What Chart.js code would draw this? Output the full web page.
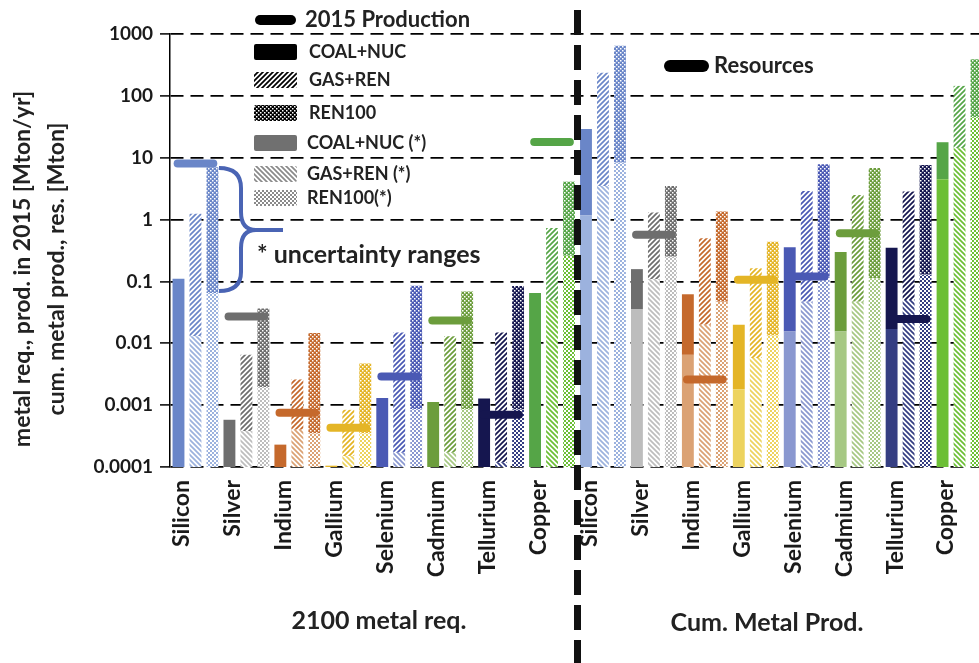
<!DOCTYPE html>
<html>
<head>
<meta charset="utf-8">
<script src="https://cdn.jsdelivr.net/npm/chart.js@4.4.1/dist/chart.umd.min.js"></script>
<style>
  html, body { margin: 0; padding: 0; background: #fff; overflow: hidden; }
  #wrap { width: 979px; height: 663px; overflow: hidden; }
  canvas { display: block; }
</style>
</head>
<body>
<div id="wrap"><canvas id="chart" width="1000" height="663"></canvas></div>
<script>
const metals = ['Silicon', 'Silver', 'Indium', 'Gallium', 'Selenium', 'Cadmium', 'Tellurium', 'Copper'];

// 2100 metal requirement [Mton/yr]  (low = top of the uncertainty part)
const reqCoalHigh = [0.11, 0.00058, 0.00023, 0.000105, 0.0013, 0.00112, 0.00128, 0.065];
const reqGasLow = [0.013, 0.00038, 0.0004, 0.00015, 0.00017, 0.00017, 0.00012, 0.049];
const reqGasHigh = [1.24, 0.0065, 0.0026, 0.00084, 0.015, 0.013, 0.015, 0.73];
const reqRenLow = [0.065, 0.00196, 0.00035, 0.00035, 0.00086, 0.00086, 0.00085, 0.26];
const reqRenHigh = [7.0, 0.0365, 0.0146, 0.0047, 0.085, 0.069, 0.084, 4.1];
const prod2015 = [8.1, 0.027, 0.00075, 0.00043, 0.0029, 0.0233, 0.0007, 18];

// cumulative metal production [Mton]
const cumCoalLow = [1.16, 0.0357, 0.0065, 0.0018, 0.0155, 0.0155, 0.017, 4.5];
const cumCoalHigh = [29, 0.158, 0.062, 0.02, 0.358, 0.30, 0.35, 17.8];
const cumGasLow = [3.5, 0.109, 0.02, 0.0058, 0.047, 0.047, 0.05, 14.2];
const cumGasHigh = [237, 1.3, 0.5, 0.164, 2.9, 2.5, 2.85, 145];
const cumRenLow = [8.3, 0.25, 0.047, 0.0133, 0.12, 0.113, 0.128, 45];
const cumRenHigh = [646, 3.5, 1.35, 0.44, 7.85, 6.8, 7.6, 390];
const resources = [null, 0.57, 0.0026, 0.106, 0.12, 0.6, 0.0247, null];

const tickValues = [1000, 100, 10, 1, 0.1, 0.01, 0.001, 0.0001];
const tickLabels = ['1000', '100', '10', '1', '0.1', '0.01', '0.001', '0.0001'];

const darkColors = ['#6a86c8', '#6e6e6e', '#c5692c', '#e4b526', '#4a59b4', '#6c9d3c', '#15164f', '#55a547'];
const lightColors = ['#9cb2de', '#bdbdbd', '#dba274', '#edd35e', '#8a98d0', '#a6c883', '#353e82', '#6cbf35'];

const FONT = 'Lato, "Open Sans", sans-serif';
const AXIS_MIN = 0.0001;

// fill patterns
function hatch(color, back) {
    const s = 5;
    const c = document.createElement('canvas');
    c.width = s; c.height = s;
    const g = c.getContext('2d');
    g.fillStyle = '#fff';
    g.fillRect(0, 0, s, s);
    g.strokeStyle = color;
    g.lineWidth = 1.7;
    g.beginPath();
    if (!back) {
        g.moveTo(-1, s + 1); g.lineTo(s + 1, -1);
        g.moveTo(-1, 1); g.lineTo(1, -1);
        g.moveTo(s - 1, s + 1); g.lineTo(s + 1, s - 1);
    } else {
        g.moveTo(-1, -1); g.lineTo(s + 1, s + 1);
        g.moveTo(s - 1, -1); g.lineTo(s + 1, 1);
        g.moveTo(-1, s - 1); g.lineTo(1, s + 1);
    }
    g.stroke();
    return g.createPattern(c, 'repeat');
}

function dots(color) {
    const c = document.createElement('canvas');
    c.width = 4; c.height = 4;
    const g = c.getContext('2d');
    g.fillStyle = color;
    g.fillRect(0, 0, 4, 4);
    g.fillStyle = '#fff';
    g.fillRect(0, 0, 1.5, 1.5);
    g.fillRect(2, 2, 1.5, 1.5);
    return g.createPattern(c, 'repeat');
}

function checker(color) {
    const c = document.createElement('canvas');
    c.width = 4; c.height = 4;
    const g = c.getContext('2d');
    g.fillStyle = '#fff';
    g.fillRect(0, 0, 4, 4);
    g.fillStyle = color;
    g.fillRect(0, 0, 2, 2);
    g.fillRect(2, 2, 2, 2);
    return g.createPattern(c, 'repeat');
}

// one category slot per bar: left half = requirement, right half = cumulative production
const halves = [
    { low: [null, reqGasLow, reqRenLow], high: [reqCoalHigh, reqGasHigh, reqRenHigh] },
    { low: [cumCoalLow, cumGasLow, cumRenLow], high: [cumCoalHigh, cumGasHigh, cumRenHigh] }
];
const slotLabels = [], lightData = [], darkData = [], lightFill = [], darkFill = [];
halves.forEach(h => {
    metals.forEach((m, i) => {
        for (let s = 0; s < 3; s++) {
            const low = h.low[s] ? h.low[s][i] : null;
            slotLabels.push(s === 0 ? m : '');
            lightData.push(low === null ? null : [AXIS_MIN, low]);
            darkData.push([low === null ? AXIS_MIN : low, h.high[s][i]]);
            if (s === 0) { lightFill.push(lightColors[i]); darkFill.push(darkColors[i]); }
            if (s === 1) { lightFill.push(hatch(lightColors[i], true)); darkFill.push(hatch(darkColors[i], false)); }
            if (s === 2) { lightFill.push(checker(lightColors[i])); darkFill.push(dots(darkColors[i])); }
        }
    });
});

const barSets = [
    { label: 'uncertainty', data: lightData, backgroundColor: lightFill },
    { label: 'scenario', data: darkData, backgroundColor: darkFill }
].map(d => Object.assign(d, { borderWidth: 0, order: 1, grouped: false, categoryPercentage: 1, barPercentage: 0.7 }));

// thick horizontal markers: 2015 production (left) and resources (right)
function marker(slot, v, color) {
    return {
        type: 'line', xAxisID: 'xm', order: 0,
        data: [{ x: slot - 0.05, y: v }, { x: slot + 2.05, y: v }],
        borderColor: color, borderWidth: 8, borderCapStyle: 'round', pointRadius: 0
    };
}
const markerSets = [];
prod2015.forEach((v, i) => { if (v !== null) markerSets.push(marker(3 * i, v, darkColors[i])); });
resources.forEach((v, i) => { if (v !== null) markerSets.push(marker(24 + 3 * i, v, darkColors[i])); });

// legend, brace, separator and captions
const deco = {
    id: 'deco',
    afterDatasetsDraw(chart) {
        const { ctx, scales: { x } } = chart;
        const sx = (x.getPixelForTick(23) + x.getPixelForTick(24)) / 2;
        ctx.save();
        ctx.strokeStyle = '#111';
        ctx.lineWidth = 7;
        ctx.setLineDash([25, 10]);
        ctx.beginPath();
        ctx.moveTo(sx, 10);
        ctx.lineTo(sx, chart.height);
        ctx.stroke();
        ctx.restore();
    },
    afterDraw(chart) {
        const { ctx } = chart;
        ctx.save();
        ctx.fillStyle = '#222';
        ctx.textBaseline = 'middle';

        // marker legend entries
        const pill = (x1, x2, y, w) => {
            ctx.strokeStyle = '#000';
            ctx.lineWidth = w;
            ctx.lineCap = 'round';
            ctx.beginPath(); ctx.moveTo(x1, y); ctx.lineTo(x2, y); ctx.stroke();
        };
        pill(260, 291, 20, 10);
        pill(670, 703, 66, 12);
        ctx.font = 'bold 22px ' + FONT;
        ctx.fillText('2015 Production', 305, 20);
        ctx.fillText('Resources', 714, 66);

        // scenario legend entries
        const items = [
            ['COAL+NUC', '#000', 52, 309],
            ['GAS+REN', hatch('#000', false), 80, 309],
            ['REN100', dots('#000'), 113, 309],
            ['COAL+NUC (*)', '#707070', 143, 307],
            ['GAS+REN (*)', hatch('#8a8a8a', true), 174, 307],
            ['REN100(*)', checker('#8a8a8a'), 198, 307]
        ];
        ctx.font = 'bold 18px ' + FONT;
        items.forEach(([label, fill, y, tx]) => {
            ctx.fillStyle = fill;
            ctx.beginPath();
            ctx.roundRect(254, y - 8, 43, 16, 2);
            ctx.fill();
            ctx.fillStyle = '#222';
            ctx.fillText(label, tx, y);
        });

        // curly brace for the uncertainty ranges
        ctx.strokeStyle = '#4a64b4';
        ctx.lineWidth = 4;
        ctx.lineCap = 'butt';
        ctx.beginPath();
        ctx.moveTo(219, 168);
        ctx.quadraticCurveTo(241, 168, 241, 188);
        ctx.lineTo(241, 212);
        ctx.quadraticCurveTo(241, 230, 256, 230);
        ctx.lineTo(283, 230);
        ctx.moveTo(256, 230);
        ctx.quadraticCurveTo(241, 230, 241, 248);
        ctx.lineTo(241, 272);
        ctx.quadraticCurveTo(241, 291, 219, 291);
        ctx.stroke();

        ctx.font = 'bold 25px ' + FONT;
        ctx.fillText('* uncertainty ranges', 257, 255);

        // panel captions
        ctx.textAlign = 'center';
        ctx.font = 'bold 25px ' + FONT;
        ctx.fillText('2100 metal req.', 379, 621);
        ctx.fillText('Cum. Metal Prod.', 767, 623);

        // y axis title
        ctx.translate(0, 269);
        ctx.rotate(-Math.PI / 2);
        ctx.font = 'bold 23px ' + FONT;
        ctx.fillText('metal req., prod. in 2015 [Mton/yr]', 0, 23);
        ctx.fillText('cum. metal prod., res. [Mton]', 0, 57);
        ctx.restore();
    }
};

new Chart(document.getElementById('chart'), {
    type: 'bar',
    data: {
        labels: slotLabels,
        datasets: barSets.concat(markerSets)
    },
    options: {
        responsive: false,
        animation: false,
        layout: { padding: { top: 34, right: 15, left: 0, bottom: 0 } },
        plugins: { legend: { display: false }, tooltip: { enabled: false } },
        scales: {
            x: {
                type: 'category',
                afterFit: (s) => { s.height = 196; s.paddingLeft = 0; s.paddingRight = 0; },
                grid: { display: false, drawTicks: false },
                border: { display: false },
                ticks: {
                    autoSkip: false, minRotation: 90, maxRotation: 90, labelOffset: 3.5, padding: 13,
                    font: { family: FONT, size: 23, weight: 'bold' }, color: '#1a1a1a'
                }
            },
            xm: { type: 'linear', display: false, offset: false, min: -0.5, max: 47.5 },
            y: {
                type: 'logarithmic',
                min: AXIS_MIN,
                max: 1000,
                stacked: false,
                afterBuildTicks: (s) => { s.ticks = tickValues.map(v => ({ value: v })); },
                afterFit: (s) => { s.width = 170; },
                ticks: {
                    autoSkip: false, padding: 7,
                    callback: (v) => tickLabels[tickValues.indexOf(v)],
                    font: { family: FONT, size: 19, weight: 'bold' }, color: '#1a1a1a'
                },
                grid: { color: '#000', lineWidth: 1.8, tickLength: 10, tickColor: '#000', tickWidth: 1.5, tickBorderDash: [] },
                border: { display: true, color: '#000', width: 1.5, dash: [13, 7] }
            }
        }
    },
    plugins: [deco]
});
</script>
</body>
</html>
